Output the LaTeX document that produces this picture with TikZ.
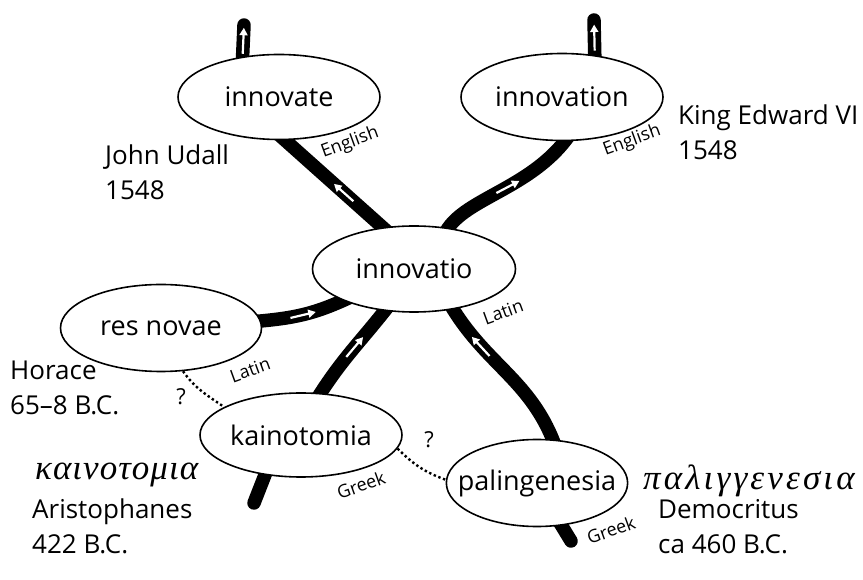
\documentclass[tikz,border=0pt]{standalone}
\usepackage{fontspec}
\setmainfont{Open Sans}
\newfontfamily\greekit{Liberation Serif}[LetterSpace=3]
\newfontfamily\greekwide{Liberation Serif}[LetterSpace=9]
\usetikzlibrary{shapes.geometric, arrows.meta, decorations.markings, backgrounds}

\tikzset{
  word/.style={ellipse, draw, fill=white, line width=1.6pt, inner sep=0pt,
    minimum width=202pt, minimum height=85pt, font=\fontsize{27}{32}\selectfont},
  river/.style={line width=13.5pt, line cap=round, shorten <=-8pt},
  inner/.style={shorten >=-8pt},
  flowtip/.style={white, line width=2.2pt, line cap=butt, shorten <=0pt, shorten >=0pt,
    -{Triangle[length=7.5pt, width=8pt]}},
  flow/.style={postaction={decorate, decoration={markings,
    mark=at position #1 with {\draw[flowtip] (-13pt,0) -- (13pt,0);}}}},
  lang/.style={font=\fontsize{18}{20}\selectfont, rotate=20, inner sep=0pt},
  who/.style={font=\fontsize{26}{35}\selectfont, align=left, anchor=base west, inner sep=0pt},
  greekword/.style={font=\itshape\fontsize{35}{38}\selectfont, anchor=base west, inner sep=0pt},
  maybe/.style={line width=2.4pt, dash pattern=on 2.4pt off 2.6pt},
  query/.style={font=\fontsize{22}{26}\selectfont, inner sep=0pt}
}

\begin{document}
\begin{tikzpicture}[x=1pt, y=1pt]
    \useasboundingbox (0,0) rectangle (863,579);
    % Words
    \node[word] (innovate) at (279,482) {innovate};
    \node[word, minimum height=87pt] (innovation) at (562,482) {innovation};
    \node[word, minimum width=203pt, minimum height=86pt] (innovatio) at (414,310) {innovatio};
    \node[word, minimum width=201pt, minimum height=87pt] (resnovae) at (161,251) {res novae};
    \node[word, minimum height=84pt] (kainotomia) at (301,144) {kainotomia};
    \node[word, minimum width=181pt, minimum height=87pt, inner xsep=-15pt] (palingenesia) at (537,96) {palingenesia};
    % Free ends of the streams
    \coordinate (innovatetop) at (244,554);
    \coordinate (innovationtop) at (594,559);
    \coordinate (kainotomiaend) at (254,76);
    \coordinate (palingenesiaend) at (571,38);
    % Streams
    \begin{scope}[on background layer]
        \draw[river, inner, flow=0.4] (innovatio.127) -- (innovate.-82);
        \draw[river, flow=0.5] (innovate.132) -- (innovatetop);
        \draw[river, inner, flow=0.5] (innovatio.51) to[out=66, in=235, out distance=32pt, in distance=60pt] (innovation.-86);
        \draw[river, flow=0.5] (innovation.52) -- (innovationtop);
        \draw[river, inner, flow=0.5] (resnovae.4) to[out=5, in=205] (innovatio.204);
        \draw[river, inner, flow=0.55] (kainotomia.65) to[out=58, in=232] (innovatio.235);
        \draw[river] (kainotomia.228) -- (kainotomiaend);
        \draw[river, inner, flow=0.72] (palingenesia.70) to[out=110, in=-60] (innovatio.-46);
        \draw[river] (palingenesia.-60) -- (palingenesiaend);
    \end{scope}
    % Uncertain links
    \draw[maybe] (resnovae.-63) to[out=-55, in=145] (kainotomia.160);
    \draw[maybe] (kainotomia.-8) to[out=-45, in=160] (palingenesia.178);
    \node[query] (q1) at (181,182) {?};
    \node[query] (q2) at (429,139) {?};
    % Languages
    \node[lang] (eng1) at (350,436) {English};
    \node[lang] (eng2) at (632,438) {English};
    \node[lang] (lat1) at (503,267) {Latin};
    \node[lang] (lat2) at (250,209) {Latin};
    \node[lang] (grk1) at (361,94) {Greek};
    \node[lang] (grk2) at (611,49) {Greek};
    % Sources
    \node[who] (udall) at (105,379) {John Udall\\1548};
    \node[who] (edward) at (678,419) {King Edward VI\\1548};
    \node[who] (horace) at (10,164) {Horace\\65--8 B.C.};
    \node[greekword] (kaingr) at (35,99) {\greekit καινοτομια};
    \node[who] (aristophanes) at (32,26) {Aristophanes\\422 B.C.};
    \node[greekword] (palingr) at (643,89) {\greekwide παλιγγενεσια};
    \node[who] (democritus) at (658,26) {Democritus\\ca 460 B.C.};
\end{tikzpicture}
\end{document}
